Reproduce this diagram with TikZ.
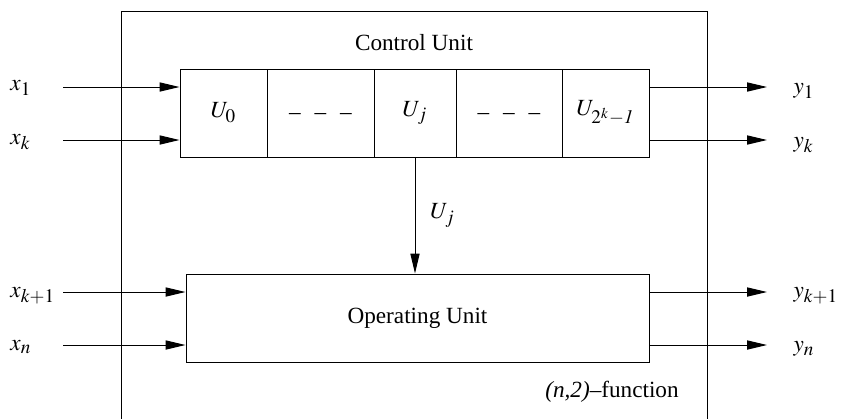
\documentclass[tikz,border=0pt]{standalone}
\usepackage{mathptmx}
\usepackage{fontspec}
\setmainfont{Liberation Serif}
\DeclareMathSizes{11.6}{11.6}{9.6}{7.5}
\usetikzlibrary{arrows.meta}

\begin{document}
\begin{tikzpicture}[x=0.5pt,y=-0.5pt,line width=0.5pt,
  >={Triangle[length=10pt,width=4.6pt]},
  every node/.style={font=\fontsize{11.6}{14}\selectfont},
  cell/.style={draw,minimum height=44pt,inner sep=0pt},
  lab/.style={anchor=west,inner sep=0pt}]
\useasboundingbox (0,0) rectangle (841,419);

% caja exterior (abierta por abajo)
\coordinate (bl) at (121,419);
\coordinate (tl) at (121,11);
\coordinate (tr) at (707,11);
\coordinate (br) at (707,419);
\draw (bl) -- (tl) -- (tr) -- (br);

% unidad de control
\node (cu) at (414,43) {Control Unit};
\node (c0) at (223.5,113) [cell,minimum width=43.5pt] {$U_0$};
\node (c1) at (320.5,113) [cell,minimum width=53.5pt] {\raisebox{-6pt}{--\hspace{0.6em}--\hspace{0.6em}--}};
\node (c2) at (415,113) [cell,minimum width=41pt] {$U_j$};
\node (c3) at (509,113) [cell,minimum width=53pt] {\raisebox{-6pt}{--\hspace{0.6em}--\hspace{0.6em}--}};
\node (c4) at (605.5,113) [cell,minimum width=43.5pt] {$U_{2^k-\mathit{1}}$};

% unidad operativa
\node (ou) at (417.5,318) [draw,minimum width=231.5pt,minimum height=44pt,inner sep=0pt] {Operating Unit};
\node (fn) at (612,392) {\textit{(n,2)}--function};

% entradas
\coordinate (i1) at (63,87);
\coordinate (i2) at (63,140);
\coordinate (i3) at (63,292);
\coordinate (i4) at (63,345);
% salidas
\coordinate (o1) at (767,87);
\coordinate (o2) at (767,140);
\coordinate (o3) at (767,292);
\coordinate (o4) at (767,345);

\node (x1) at (10,88) [lab] {$x_1$};
\node (x2) at (10,142) [lab] {$x_k$};
\node (x3) at (10,296) [lab] {$x_{k+1}$};
\node (x4) at (10,347) [lab] {$x_n$};
\node (y1) at (793,91) [lab] {$y_1$};
\node (y2) at (793,145) [lab] {$y_k$};
\node (y3) at (793,296) [lab] {$y_{k+1}$};
\node (y4) at (793,349) [lab] {$y_n$};

\path
(i1) edge [->] (i1 -| c0.west)
(i2) edge [->] (i2 -| c0.west)
(i3) edge [->] (i3 -| ou.west)
(i4) edge [->] (i4 -| ou.west)
(o1 -| c4.east) edge [->] (o1)
(o2 -| c4.east) edge [->] (o2)
(o3 -| ou.east) edge [->] (o3)
(o4 -| ou.east) edge [->] (o4)
(c2.south) edge [->] node [right=4pt] {$U_j$} (c2.south |- ou.north);

\end{tikzpicture}
\end{document}
